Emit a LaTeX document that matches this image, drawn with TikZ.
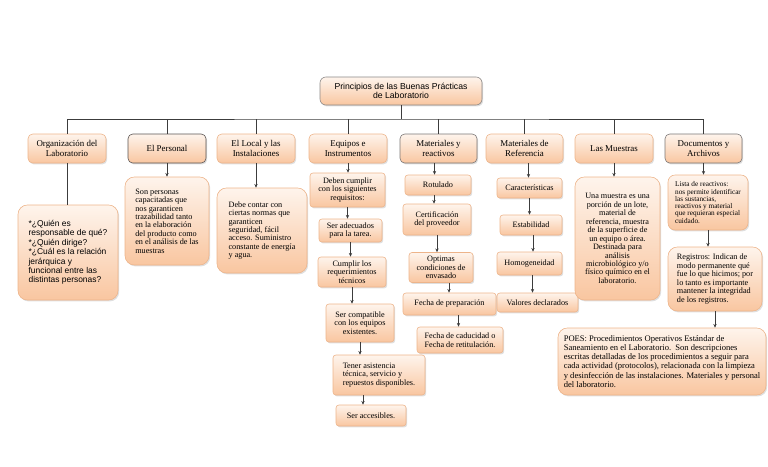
\documentclass[tikz,border=0pt]{standalone}
\usepackage{fontspec}
\setmainfont{Liberation Serif}
\newfontfamily\titlefont{Liberation Sans}
\usetikzlibrary{positioning, arrows.meta, shadows}

\definecolor{boxtop}{HTML}{FEF4EC}
\definecolor{boxbot}{HTML}{F9C6A0}
\definecolor{boxline}{HTML}{EDB48A}
\definecolor{darkline}{HTML}{5A5452}
\definecolor{linegray}{HTML}{3C3C3C}

\newlength\pu
\setlength\pu{0.03cm}

\newcommand\txtS{\fontsize{7}{7.2}\selectfont}
\newcommand\txtP{\fontsize{7.3}{7.8}\selectfont}
\newcommand\txtT{\fontsize{6.2}{6.2}\selectfont}
\newcommand\txtH{\fontsize{7.6}{8.6}\selectfont}
\newcommand\txtTitle{\titlefont\fontsize{7.4}{8}\selectfont}
\newcommand\txtQ{\titlefont\fontsize{7.2}{8}\selectfont}

\tikzset{
  basebox/.style={draw=boxline, line width=0.5pt, top color=boxtop, bottom color=boxbot,
    drop shadow={shadow xshift=1pt, shadow yshift=-1.2pt, opacity=0.25},
    inner sep=1pt, align=center, text=black},
  mainbox/.style={basebox, rounded corners=5pt, font=\txtTitle, draw=darkline!70},
  catbox/.style={basebox, rounded corners=4pt, font=\txtH, minimum height=29\pu},
  notebox/.style={basebox, rounded corners=8pt, font=\txtS},
  stepbox/.style={basebox, rounded corners=2.5pt, font=\txtS},
  conn/.style={draw=linegray, line width=0.6pt},
  arr/.style={conn, -{Stealth[length=3.2pt, width=2.8pt]}}
}

\begin{document}
\begin{tikzpicture}[x=\pu, y=-\pu]
  \useasboundingbox (0,0) rectangle (768,466);

  % Title
  \node[mainbox, minimum width=162\pu, minimum height=28\pu] (titulo) at (401,91)
    {Principios de las Buenas Prácticas\\de Laboratorio};
  \coordinate (bus) at (398,119);

  % First level
  \node[catbox, minimum width=78\pu] (org) at (67,148.5) {Organización del\\Laboratorio};
  \node[catbox, minimum width=78\pu, draw=darkline] (pers) at (167,148.5) {El Personal};
  \node[catbox, minimum width=78\pu] (local) at (256,148.5) {El Local y las\\Instalaciones};
  \node[catbox, minimum width=78\pu] (equip) at (348,148.5) {Equipos e\\Instrumentos};
  \node[catbox, minimum width=77\pu, draw=darkline!80] (matr) at (438.5,148.5) {Materiales y\\reactivos};
  \node[catbox, minimum width=77\pu] (mref) at (524.5,148.5) {Materiales de\\Referencia};
  \node[catbox, minimum width=78\pu] (muest) at (614,148.5) {Las Muestras};
  \node[catbox, minimum width=77\pu, draw=darkline!80] (docs) at (703.5,148.5) {Documentos y\\Archivos};

  \draw[conn] (titulo.south) -- (titulo.south |- bus);
  \draw[conn] (org.north) |- (bus) -| (docs.north);
  \draw[conn] (pers.north) -- (pers.north |- bus);
  \draw[conn] (local.north) -- (local.north |- bus);
  \draw[conn] (equip.north) -- (equip.north |- bus);
  \draw[conn] (matr.north) -- (matr.north |- bus);
  \draw[conn] (mref.north) -- (mref.north |- bus);
  \draw[conn] (muest.north) -- (muest.north |- bus);

  % Organizacion
  \node[notebox, font=\txtQ, align=left, minimum width=100\pu, minimum height=95\pu] (orgtxt) at (68,252.5)
    {*¿Quién es\\responsable de qué?\\*¿Quién dirige?\\*¿Cuál es la relación\\jerárquica y\\funcional entre las\\distintas personas?};
  \draw[conn] (org) -- (org |- orgtxt.north);

  % Personal
  \node[notebox, align=left, minimum width=84\pu, minimum height=88\pu] (perstxt) at (167,221)
    {Son personas\\capacitadas que\\nos garanticen\\trazabilidad tanto\\en la elaboración\\del producto como\\en el análisis de las\\muestras};
  \draw[arr] (pers) -- (pers |- perstxt.north);

  % Local
  \node[notebox, align=left, minimum width=90\pu, minimum height=85\pu] (localtxt) at (262,230.5)
    {Debe contar con\\ciertas normas que\\garanticen\\seguridad, fácil\\acceso. Suministro\\constante de energía\\y agua.};
  \draw[arr] (local) -- (local |- localtxt.north);

  % Equipos
  \node[stepbox, minimum width=75\pu, minimum height=34\pu] (req) at (347.5,190)
    {Deben cumplir\\con los siguientes\\requisitos:};
  \node[stepbox, minimum width=63\pu, minimum height=23\pu] (adec) at (350.5,230.5)
    {Ser adecuados\\para la tarea.};
  \node[stepbox, minimum width=68\pu, minimum height=30\pu] (tecn) at (352,272)
    {Cumplir los\\requerimientos\\técnicos};
  \node[stepbox, minimum width=68\pu, minimum height=38\pu] (compat) at (360,323)
    {Ser compatible\\con los equipos\\existentes.};
  \node[stepbox, align=left, minimum width=92\pu, minimum height=40\pu] (asist) at (379,375)
    {Tener asistencia\\técnica, servicio y\\repuestos disponibles.};
  \node[stepbox, minimum width=70\pu, minimum height=21\pu] (acces) at (371,415.5)
    {Ser accesibles.};
  \draw[arr] (equip) -- (equip |- req.north);
  \draw[arr] (req) -- (req |- adec.north);
  \draw[arr] (adec) -- (adec |- tecn.north);
  \draw[arr] (tecn) -- (tecn |- compat.north);
  \draw[arr] (compat) -- (compat |- asist.north);
  \draw[arr] ([xshift=-16\pu]asist.south) -- ([xshift=-16\pu]asist.south |- acces.north);

  % Materiales y reactivos
  \node[stepbox, minimum width=66\pu, minimum height=20\pu] (rot) at (438,185) {Rotulado};
  \node[stepbox, minimum width=68\pu, minimum height=31\pu] (cert) at (437,219.5)
    {Certificación\\del proveedor};
  \node[stepbox, minimum width=64\pu, minimum height=30\pu] (opt) at (441,267.5)
    {Optimas\\condiciones de\\envasado};
  \node[stepbox, minimum width=93\pu, minimum height=22\pu] (fprep) at (449.5,304)
    {Fecha de preparación};
  \node[stepbox, align=left, minimum width=86\pu, minimum height=26\pu] (fcad) at (460,340)
    {Fecha de caducidad o\\Fecha de retitulación.};
  \draw[arr] ([xshift=-4\pu]matr.south) -- ([xshift=-4\pu]matr.south |- rot.north);
  \draw[arr] ([xshift=-4\pu]rot.south) -- ([xshift=-4\pu]rot.south |- cert.north);
  \draw[arr] (cert) -- (cert |- opt.north);
  \draw[arr] ([xshift=8\pu]opt.south) -- ([xshift=8\pu]opt.south |- fprep.north);
  \draw[arr] ([xshift=9\pu]fprep.south) -- ([xshift=9\pu]fprep.south |- fcad.north);

  % Materiales de referencia
  \node[stepbox, minimum width=65\pu, minimum height=20\pu] (car) at (529.5,188) {Características};
  \node[stepbox, minimum width=62\pu, minimum height=20\pu] (est) at (531,225) {Estabilidad};
  \node[stepbox, minimum width=65\pu, minimum height=23\pu] (hom) at (529.5,263.5) {Homogeneidad};
  \node[stepbox, minimum width=81\pu, minimum height=19\pu] (val) at (537.5,302.5) {Valores declarados};
  \draw[arr] ([xshift=4\pu]mref.south) -- ([xshift=4\pu]mref.south |- car.north);
  \draw[arr] (car) -- (car |- est.north);
  \draw[arr] ([xshift=2\pu]est.south) -- ([xshift=2\pu]est.south |- hom.north);
  \draw[arr] ([xshift=3\pu]hom.south) -- ([xshift=3\pu]hom.south |- val.north);

  % Muestras
  \node[notebox, minimum width=85\pu, minimum height=123\pu] (muesttxt) at (617.5,238.5)
    {Una muestra es una\\porción de un lote,\\material de\\referencia, muestra\\de la superficie de\\un equipo o área.\\Destinada para\\análisis\\microbiológico y/o\\físico químico en el\\laboratorio.};
  \draw[arr] (muest) -- (muest |- muesttxt.north);

  % Documentos
  \node[notebox, font=\txtT, align=left, rounded corners=6pt, minimum width=80\pu, minimum height=55\pu] (lista) at (708,202.5)
    {Lista de reactivos:\\nos permite identificar\\las sustancias,\\reactivos y material\\que requieran especial\\cuidado.};
  \node[notebox, align=left, minimum width=94\pu, minimum height=64\pu] (regis) at (715,279)
    {Registros: Indican de\\modo permanente qué\\fue lo que hicimos; por\\lo tanto es importante\\mantener la integridad\\de los registros.};
  \node[notebox, font=\txtP, align=left, minimum width=208\pu, minimum height=67\pu] (poes) at (662,361.5)
    {POES: Procedimientos Operativos Estándar de\\Saneamiento en el Laboratorio.\ \ Son descripciones\\escritas detalladas de los procedimientos a seguir para\\cada actividad (protocolos), relacionada con la limpieza\\y desinfección de las instalaciones. Materiales y personal\\del laboratorio.};
  \draw[arr] (docs) -- (docs |- lista.north);
  \draw[arr] (lista) -- (lista |- regis.north);
  \draw[arr] (regis) -- (regis |- poes.north);
\end{tikzpicture}
\end{document}
